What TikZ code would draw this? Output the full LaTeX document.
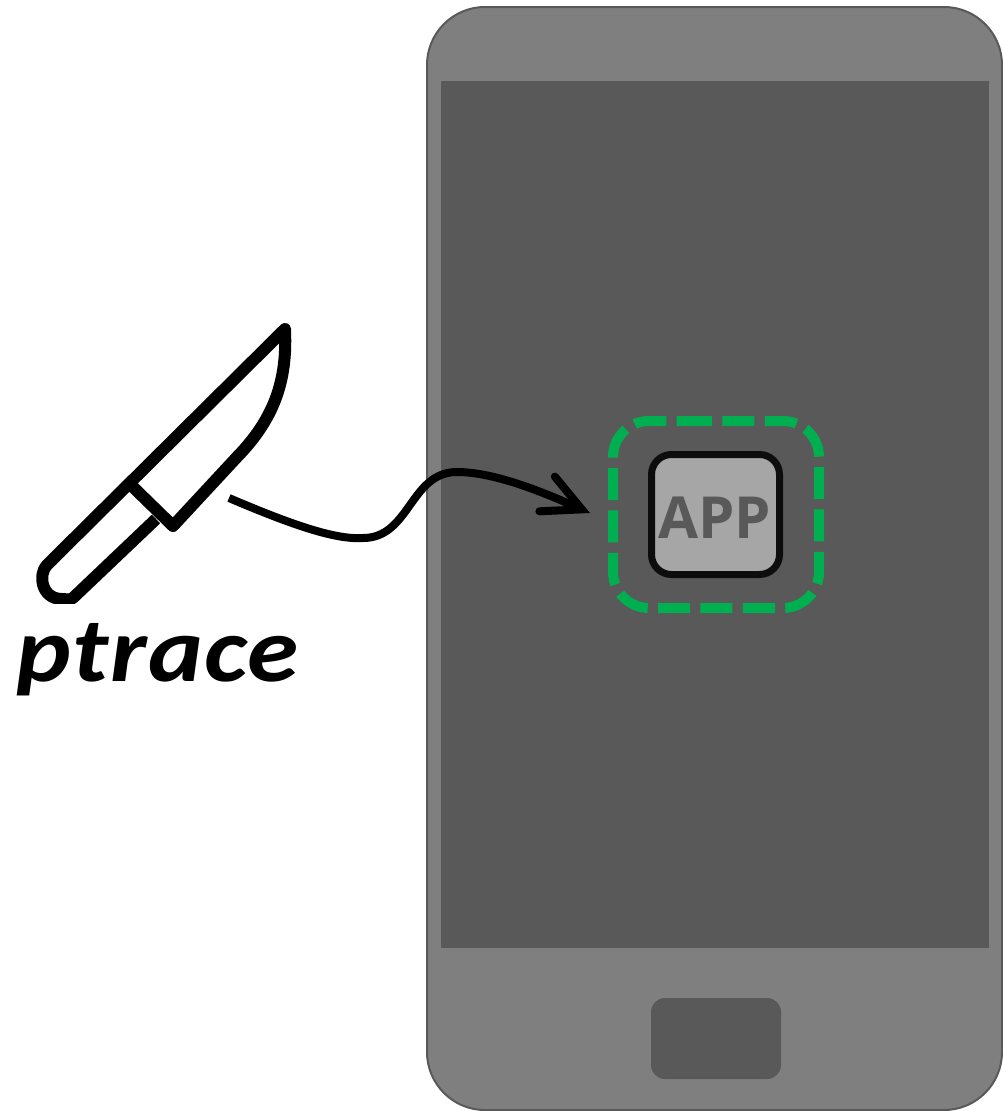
\documentclass[tikz,border=0pt]{standalone}
\usepackage{fontspec}
\usepackage{xcolor}
\usetikzlibrary{arrows.meta}
\newfontfamily\labelfont[LetterSpace=1.5, FakeStretch=1.13]{Carlito}
\newfontfamily\appfont{Open Sans}
\definecolor{phonegray}{HTML}{7F7F7F}
\definecolor{screengray}{HTML}{595959}
\definecolor{appgray}{HTML}{A6A6A6}
\definecolor{sandgreen}{HTML}{00B050}
\tikzset{
  appbox/.style={draw=black!95, fill=appgray, line width=7pt, rounded corners=20pt, minimum width=128pt, minimum height=120pt, inner sep=0pt},
  knifeline/.style={line width=12pt, line join=round},
}

\begin{document}
\begin{tikzpicture}[x=1pt, y=-1pt]
    \useasboundingbox (0,0) rectangle (1003,1111);
    \draw[draw=screengray, fill=phonegray, line width=2pt, rounded corners=58pt] (427,7) rectangle (1002,1110);
    \fill[screengray] (441,81) rectangle (989,948);
    \fill[screengray, rounded corners=14pt] (651,998) rectangle (781,1079);

    \node[appbox] (app) at (715.5,514.5) {};
    \node[font=\appfont\bfseries\fontsize{58}{60}\selectfont, text=screengray, anchor=base] (apptext) at (714.5,538) {APP};
    \draw[sandgreen, line width=10pt, dash pattern=on 32pt off 10.4pt, rounded corners=36pt]
      (680,421) -- (819,421) -- (819,608) -- (613,608) -- (613,421) -- (680,421);

    \begin{scope}
      \clip (0,323) rectangle (320,603.5);
      \draw[knifeline] (156,519) -- (74,597) .. controls (70,601) and (68,599) .. (62,599)
        .. controls (41,599) and (38,574) .. (47,565) -- (285,329)
        .. controls (287,375) and (278,415) .. (237,457) -- (173,526) -- (133,487);
    \end{scope}
    \node[font=\labelfont\bfseries\itshape\fontsize{92}{96}\selectfont, anchor=base] (label) at (158,681) {ptrace};

    \coordinate (start) at (229,498);
    \coordinate (low) at (363,538);
    \coordinate (high) at (457,472);
    \coordinate (stop) at (590,513);
    \draw[line width=8pt, -{Straight Barb[length=38pt, width=38pt, line cap=round, line join=miter]}]
      (start) .. controls (290,524) and (335,540) .. (low)
      .. controls (410,538) and (410,472) .. (high)
      .. controls (495,472) and (545,493) .. (stop);
\end{tikzpicture}
\end{document}
